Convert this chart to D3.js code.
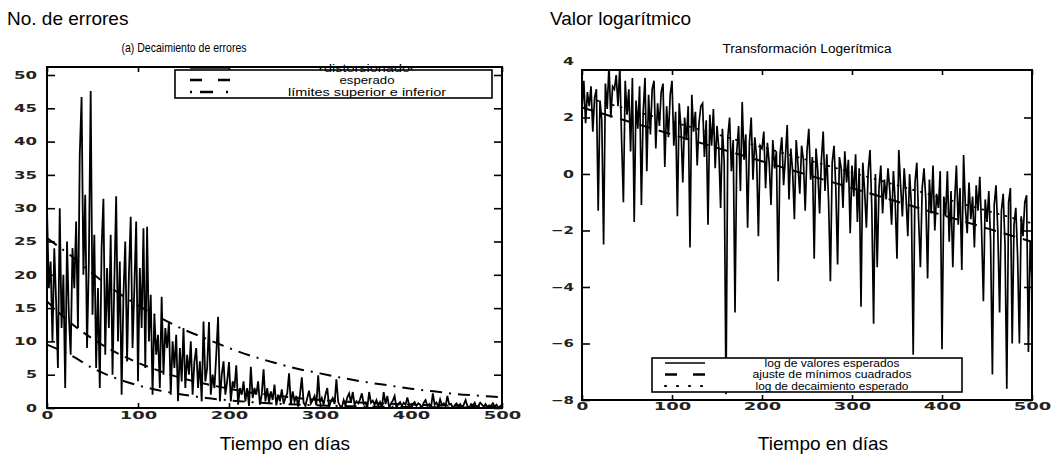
<!DOCTYPE html>
<html>
  <head>
    <meta charset="utf-8">
    <title>Decaimiento de errores</title>
    <script src="https://cdn.jsdelivr.net/npm/d3@7"></script>
    <style>
      body { margin: 0; background: #fff; }
      svg { display: block; font-family: "Liberation Sans", Arial, sans-serif; }
      .tick text { font-family: "DejaVu Sans", sans-serif; font-weight: bold; font-size: 10px; fill: #222; }
      .tick line { stroke: #000; stroke-width: 1.6; }
      .domain { display: none; }
    </style>
  </head>
  <body>
    <svg id="chart" width="1062" height="454"></svg>

    <script>
      // data
      // noisy series: one value every 2 days, day 0 to 500
      const noisyErrors = [
        30, 18, 22, 10, 24, 16, 6, 30, 12, 20, 3, 25, 14, 8, 24, 18, 28, 12, 38, 46.7, 20, 32, 9, 22, 47.6,
        14, 26, 6, 18, 3, 24, 31.4, 8, 21, 12, 26, 5, 19, 31.8, 10, 22, 2, 17, 25, 7, 20, 28.7, 9, 18, 28,
        4, 21, 12, 27, 6, 27.2, 10, 17, 2, 14, 8, 11, 3, 16.7, 5, 12, 9, 13, 2, 10, 6, 11, 1, 9, 4,
        12, 3, 8, 5, 10, 2, 7, 9, 3, 7, 1, 13, 4, 6, 12.9, 2, 5, 3, 8, 13.7, 1, 5, 7, 2, 4,
        6.9, 1, 4, 3, 6.4, 0.5, 3, 2, 4, 1, 3, 0.3, 6.2, 1.5, 3, 2, 4, 0.5, 2, 5.8, 1, 3, 0.8, 2.5, 1.2,
        3.5, 0.4, 2, 1, 2.8, 0.6, 1.5, 2.2, 5.2, 0.5, 2.5, 1, 1.8, 0.2, 2, 4.6, 0.8, 0.3, 1.5, 2.6, 0.7, 1.2, 1.8, 0.4, 4.9,
        0.8, 1.5, 0.5, 2, 3.0, 0.1, 1, 1.5, 0.6, 4.3, 0.9, 0.3, 0.05, 1.2, 0.4, 1.6, 2.2, 0.8, 2.4, 0.5, 1, 0.7, 1.3, 2.2, 0.6,
        0.8, 0.05, 2.4, 0.8, 1.1, 0.5, 1.2, 0.4, 0.9, 0.01, 2.4, 0.6, 1.8, 0.04, 0.7, 1.1, 1.8, 0.03, 0.6, 0.9, 0.3, 0.8, 0.5, 1.6, 0.4,
        0.01, 0.6, 0.9, 0.3, 0.7, 0.5, 0.04, 0.8, 1.2, 0.3, 0.6, 0.03, 2.2, 0.5, 0.8, 0.2, 1.3, 0.4, 0.7, 0.3, 1.8, 0.5, 0.6, 0.01, 0.4,
        0.7, 0.3, 0.6, 0.01, 0.5, 1.2, 0.3, 0.01, 0.6, 0.4, 0.8, 0.01, 0.3, 0.8, 0.5, 0.2, 0.6, 0.02, 0.4, 0.3, 0.7, 0.2, 0.5, 0.01, 0.3, 0.4
      ];
      const logValues = [
        2.2, 3.3, 1.8, 2.9, 2.4, 3.1, 1.5, 2.7, 3.0, -1.3, 2.6, 1.9, -2.5, 3.2, 2.3, 3.86, 2.0, 3.1, 3.0, 3.5, 2.4, 3.8, 1.2, -1.0, 3.3,
        2.1, 3.0, 0.8, 3.4, -1.7, 2.6, 1.6, 3.1, -1.1, 2.2, 3.4, 0.1, 2.8, 1.4, 3.0, 3.3, 0.9, 2.5, 1.7, 2.9, 3.2, 0.25, 2.4, 1.3, 2.8,
        3.3, 1.0, 2.2, -1.5, 2.5, 1.6, -0.3, 2.0, 1.2, 2.4, -2.6, 2.8, 1.5, 2.2, 0.3, 1.8, 2.4, 2.5, 0.6, 1.9, -1.8, 2.1, 1.0, 2.3, 0.2,
        1.7, 0.9, -1.2, 1.6, 0.4, -7.8, 1.3, 2.0, 0.1, 1.2, -4.9, 0.8, 1.7, -0.6, 2.55, 0.5, 1.4, -1.9, 1.1, 2.0, -0.2, 1.3, 0.6, -2.2, 1.0,
        0.9, 1.5, -0.5, 1.1, 0.4, -1.1, 1.2, 0.2, 0.8, -3.8, 0.7, 1.3, -0.4, 0.6, 1.73, -0.9, 0.9, 0.1, -1.6, 1.2, 0.3, -0.7, 1.0, 0.5, -1.3,
        0.8, 1.6, -0.2, 0.6, -3.0, 0.9, 0.1, -1.4, 0.5, 1.5, -0.6, 0.7, -1.0, -3.8, 0.4, 1.0, -0.5, -3.2, 0.6, 0.2, -1.2, 0.8, -0.3, 0.5, -2.1,
        0.3, -0.8, 0.7, -1.7, 0.2, -4.7, 0.4, -0.6, -1.9, 0.1, 0.85, -1.2, -5.3, 0.0, -3.3, -0.5, 0.3, -1.4, -0.2, -0.9, 0.2, -0.6, -1.8, 0.1, -1.0,
        -3.0, 0.85, -0.4, -1.5, 0.2, -0.8, -2.2, 0.0, -1.1, -6.4, -0.3, 0.4, -1.6, -3.3, -0.5, 0.2, -0.9, -3.7, -0.2, -1.4, 0.3, -2.0, -0.7, -1.2, 0.1,
        -6.2, -0.8, -1.5, 0.1, -2.4, -0.6, -3.3, -1.0, 0.3, -1.8, -0.5, -3.4, 0.67, -1.2, -2.1, -0.3, -1.6, -0.8, -2.6, -0.4, -1.3, -0.1, -2.0, -4.5, -0.9,
        -1.7, -0.6, -2.4, -7.1, -1.1, -0.4, -2.0, -4.9, -1.3, -0.7, -2.5, -7.6, -1.0, -0.5, -6.0, -1.8, -1.2, -2.9, -6.0, -1.5, -2.2, -1.0, -0.75, -6.3, -2.4, -3.8
      ];
      const noisyDays = d3.range(0, 501, 2);

      // smooth curves, one value every 25 days
      const curveDays = [0, 25, 50, 75, 100, 125, 150, 175, 200, 225, 250, 275, 300, 325, 350, 375, 400, 425, 450, 475, 500];
      const upperBound = [25.5, 23, 20.2, 17.6, 15.4, 13.5, 11.8, 10.4, 9.0, 7.8, 6.8, 5.9, 5.2, 4.5, 3.9, 3.4, 2.9, 2.5, 2.1, 1.85, 1.6];
      const expected = [16, 12.9, 10.4, 8.4, 6.8, 5.5, 4.4, 3.6, 2.9, 2.3, 1.9, 1.5, 1.2, 0.98, 0.79, 0.64, 0.52, 0.42, 0.34, 0.27, 0.22];
      const lowerBound = [9.5, 8.0, 6.0, 4.5, 3.4, 2.6, 2.0, 1.5, 1.15, 0.88, 0.67, 0.51, 0.39, 0.3, 0.23, 0.18, 0.14, 0.11, 0.08, 0.06, 0.05];

      // straight lines on the log panel
      const fitDays = [0, 100, 200, 300, 400, 500];
      const lsqFit = [2.35, 1.4, 0.45, -0.5, -1.45, -2.4];
      const logExpected = [2.75, 1.85, 0.95, 0.05, -0.85, -1.75];

      // ticks and labels
      const xTicks = [0, 100, 200, 300, 400, 500];
      const yTicksLeft = [0, 5, 10, 15, 20, 25, 30, 35, 40, 45, 50];
      const yTicksRight = [-8, -6, -4, -2, 0, 2, 4];
      const legendLeft = ["distorsionado", "esperado", "límites superior e inferior"];
      const legendRight = ["log de valores esperados", "ajuste de mínimos cuadrados", "log de decaimiento esperado"];

      // declare page elements
      chart = d3.select("#chart");

      // scales
      xL = d3.scaleLinear().domain([0, 500]).range([47, 502]);
      yL = d3.scaleLinear().domain([0, 51.2]).range([408, 67]);
      xR = d3.scaleLinear().domain([0, 500]).range([582, 1032]);
      yR = d3.scaleLinear().domain([-8, 3.68]).range([400, 70]);

      function series(days, values) {
        return days.map(function(d, i) { return [d, values[i]]; });
      }

      function drawLine(g, x, y, data, opts) {
        g.append("path")
          .datum(data)
          .attr("fill", "none")
          .attr("stroke", opts.color || "#000")
          .attr("stroke-width", opts.width)
          .attr("stroke-dasharray", opts.dash || null)
          .attr("stroke-linecap", opts.cap || "butt")
          .attr("stroke-linejoin", "miter")
          .attr("d", d3.line()
            .curve(opts.curve || d3.curveLinear)
            .x(function(d) { return x(d[0]); })
            .y(function(d) { return y(d[1]); }));
      }

      function stretch(sel, perChar) {
        sel.selectAll(".tick text")
          .attr("textLength", function() { return this.textContent.length * perChar - 1; })
          .attr("lengthAdjust", "spacingAndGlyphs");
      }

      function frame(g, x, y, yTicks, padX, padY) {
        y0 = y.range()[0];
        y1 = y.range()[1];
        x0 = x.range()[0];
        x1 = x.range()[1];
        yMax = y.domain()[1];

        g.append("g")
          .attr("transform", "translate(0," + y0 + ")")
          .call(d3.axisBottom(x).tickValues(xTicks).tickSizeInner(-5).tickSizeOuter(0).tickPadding(padX))
          .call(stretch, 12.8);
        g.append("g")
          .attr("transform", "translate(0," + y1 + ")")
          .call(d3.axisTop(x).tickValues(xTicks).tickSizeInner(-5).tickSizeOuter(0).tickFormat(""));
        left = g.append("g")
          .attr("transform", "translate(" + x0 + ",0)")
          .call(d3.axisLeft(y).tickValues(yTicks).tickSizeInner(-8).tickSizeOuter(0).tickPadding(padY))
          .call(stretch, 12);
        left.selectAll(".tick").filter(function(d) { return d > yMax; }).select("line").remove();
        right = g.append("g")
          .attr("transform", "translate(" + x1 + ",0)")
          .call(d3.axisRight(y).tickValues(yTicks).tickSizeInner(-8).tickSizeOuter(0).tickFormat(""));
        right.selectAll(".tick").filter(function(d) { return d > yMax; }).remove();

        g.append("rect")
          .attr("x", x0)
          .attr("y", y1)
          .attr("width", x1 - x0)
          .attr("height", y0 - y1)
          .attr("fill", "none")
          .attr("stroke", "#000")
          .attr("stroke-width", 2);
      }

      function legend(g, box, rows, labels, widths, styles, textX, sampleX, size) {
        g.append("rect")
          .attr("x", box[0])
          .attr("y", box[1])
          .attr("width", box[2] - box[0])
          .attr("height", box[3] - box[1])
          .attr("fill", "#fff")
          .attr("stroke", "#000")
          .attr("stroke-width", 1.6);
        labels.forEach(function(label, i) {
          g.append("line")
            .attr("x1", sampleX[0])
            .attr("x2", sampleX[1])
            .attr("y1", rows[i])
            .attr("y2", rows[i])
            .attr("stroke", "#000")
            .attr("stroke-width", styles[i].width)
            .attr("stroke-linecap", styles[i].cap || "butt")
            .attr("stroke-dasharray", styles[i].dash || null);
          g.append("text")
            .attr("x", textX)
            .attr("y", rows[i] + 3.5)
            .attr("text-anchor", "middle")
            .attr("font-size", size)
            .attr("textLength", widths[i])
            .attr("lengthAdjust", "spacingAndGlyphs")
            .text(label);
        });
      }

      // left panel
      gL = chart.append("g");
      gL.append("clipPath").attr("id", "clipL")
        .append("rect").attr("x", 47).attr("y", 67).attr("width", 455).attr("height", 341);
      linesL = gL.append("g").attr("clip-path", "url(#clipL)");
      drawLine(linesL, xL, yL, series(noisyDays, noisyErrors), { width: 1.8, color: "#000" });
      drawLine(linesL, xL, yL, series(curveDays, expected), { width: 2, dash: "9,7", curve: d3.curveMonotoneX });
      drawLine(linesL, xL, yL, series(curveDays, upperBound), { width: 2, dash: "12,7,2,7", curve: d3.curveMonotoneX });
      drawLine(linesL, xL, yL, series(curveDays, lowerBound), { width: 2, dash: "12,7,2,7", curve: d3.curveMonotoneX });
      frame(gL, xL, yL, yTicksLeft, 4, 10);
      legend(gL, [175, 70, 492, 98], [68, 80, 92], legendLeft, [86, 55, 158],
        [{ width: 1.6 }, { width: 2.4, dash: "12,16" }, { width: 2.4, dash: "2,8,13,13,2", cap: "butt" }],
        367, [190, 230], 10.5);

      // right panel
      gR = chart.append("g");
      gR.append("clipPath").attr("id", "clipR")
        .append("rect").attr("x", 582).attr("y", 70).attr("width", 450).attr("height", 330);
      linesR = gR.append("g").attr("clip-path", "url(#clipR)");
      drawLine(linesR, xR, yR, series(noisyDays, logValues), { width: 1.7, color: "#000" });
      drawLine(linesR, xR, yR, series(fitDays, lsqFit), { width: 2, dash: "12,8" });
      drawLine(linesR, xR, yR, series(fitDays, logExpected), { width: 1.8, dash: "1,7", cap: "round" });
      frame(gR, xR, yR, yTicksRight, 3, 8);
      legend(gR, [652, 358, 962, 392], [363, 374.5, 386], legendRight, [135, 159, 153],
        [{ width: 1.6 }, { width: 2.4, dash: "12,16" }, { width: 2.2, dash: "1,11", cap: "round" }],
        832, [665, 705], 10);

      // titles and axis labels
      chart.append("text").attr("x", 7).attr("y", 25).attr("font-size", 19).text("No. de errores");
      chart.append("text").attr("x", 550).attr("y", 25).attr("font-size", 19).text("Valor logarítmico");
      chart.append("text").attr("x", 184).attr("y", 52).attr("font-size", 13).attr("text-anchor", "middle")
        .attr("textLength", 125).attr("lengthAdjust", "spacingAndGlyphs").text("(a) Decaimiento de errores");
      chart.append("text").attr("x", 807).attr("y", 53).attr("font-size", 12.5).attr("text-anchor", "middle")
        .attr("textLength", 169).attr("lengthAdjust", "spacingAndGlyphs").text("Transformación Logerítmica");
      chart.append("text").attr("x", 285).attr("y", 450).attr("font-size", 19).attr("text-anchor", "middle").text("Tiempo en días");
      chart.append("text").attr("x", 823).attr("y", 450).attr("font-size", 19).attr("text-anchor", "middle").text("Tiempo en días");
    </script>
  </body>
</html>
